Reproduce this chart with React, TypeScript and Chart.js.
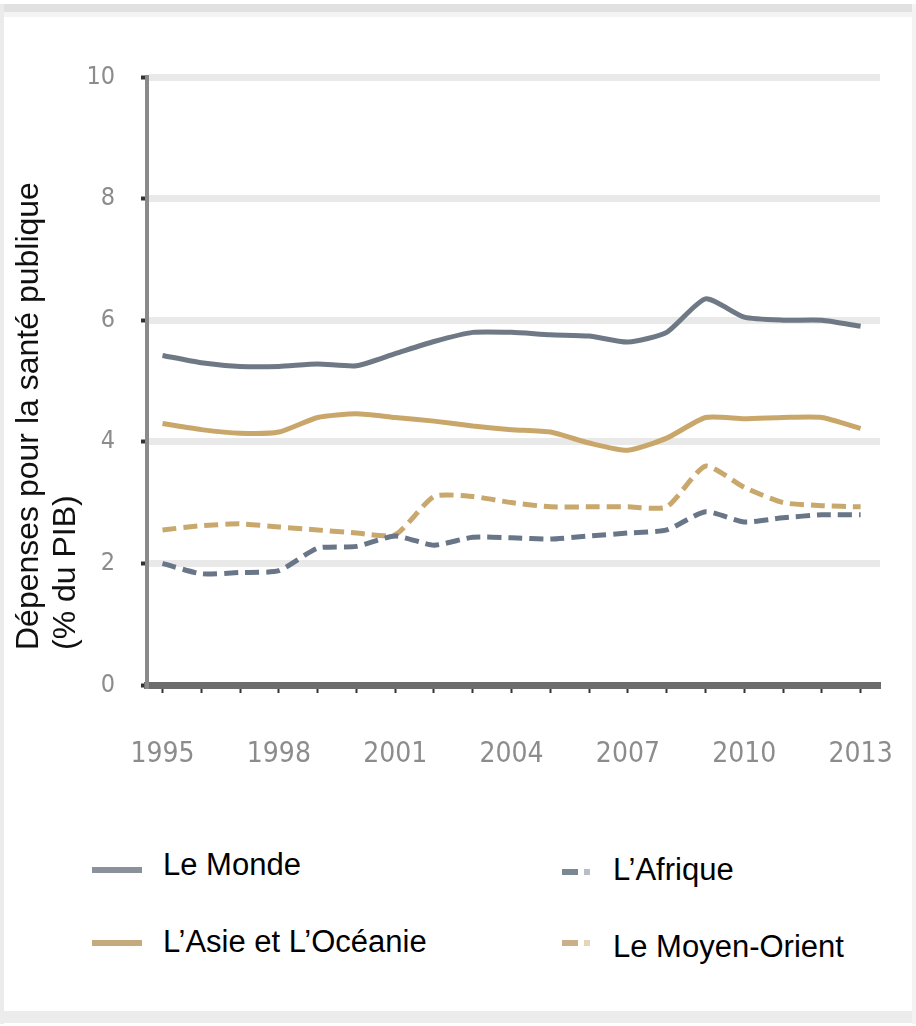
import React, { useEffect, useRef } from "react";
import { Chart, registerables } from "chart.js";

Chart.register(...registerables);

// ---- data ----
const years = [1995, 1996, 1997, 1998, 1999, 2000, 2001, 2002, 2003, 2004, 2005, 2006, 2007, 2008, 2009, 2010, 2011, 2012, 2013];
const monde = [5.42, 5.3, 5.24, 5.24, 5.28, 5.25, 5.45, 5.65, 5.8, 5.8, 5.76, 5.74, 5.64, 5.8, 6.35, 6.05, 6.0, 6.0, 5.9];
const asieOceanie = [4.3, 4.2, 4.14, 4.16, 4.4, 4.46, 4.4, 4.34, 4.26, 4.2, 4.16, 3.98, 3.86, 4.06, 4.4, 4.38, 4.4, 4.4, 4.22];
const afrique = [2.0, 1.83, 1.85, 1.88, 2.25, 2.28, 2.45, 2.3, 2.43, 2.42, 2.4, 2.45, 2.5, 2.55, 2.85, 2.68, 2.75, 2.8, 2.8];
const moyenOrient = [2.55, 2.62, 2.65, 2.6, 2.55, 2.5, 2.47, 3.1, 3.1, 3.0, 2.93, 2.93, 2.93, 2.93, 3.6, 3.25, 3.0, 2.95, 2.93];
const xLabelYears = [1995, 1998, 2001, 2004, 2007, 2010, 2013];
const yTickValues = [0, 2, 4, 6, 8, 10];
const yTitle = ["Dépenses pour la santé publique", "(% du PIB)"];
const seriesNames = ["Le Monde", "L’Asie et L’Océanie", "L’Afrique", "Le Moyen-Orient"];
const seriesColors = ["#6f7986", "#c9a76a", "#687687", "#c8a86d"];

const NARROW = '"Liberation Sans Narrow", "DejaVu Sans Condensed", "Liberation Sans", sans-serif';
const SANS = '"Liberation Sans", Arial, sans-serif';

const yTitlePlugin = {
  id: "yTitleCustom",
  afterDraw(chart: any) {
    const ctx = chart.ctx;
    ctx.save();
    ctx.fillStyle = "#111";
    ctx.font = `32px ${SANS}`;
    ctx.textAlign = "left";
    ctx.textBaseline = "alphabetic";
    const xs = [38, 75];
    yTitle.forEach((t, i) => {
      ctx.save();
      ctx.translate(xs[i], 650);
      ctx.rotate(-Math.PI / 2);
      ctx.fillText(t, 0, 0);
      ctx.restore();
    });
    ctx.restore();
  },
};

function toPoints(vals: number[]) {
  return years.map((yr, i) => ({ x: yr, y: vals[i] }));
}

export default function App() {
  const ref = useRef<HTMLCanvasElement | null>(null);

  useEffect(() => {
    if (!ref.current) return;
    const chart = new Chart(ref.current, {
      type: "line",
      data: {
        datasets: [
          { label: seriesNames[0], data: toPoints(monde), borderColor: seriesColors[0], borderWidth: 5, pointRadius: 0, tension: 0.2, fill: false },
          { label: seriesNames[1], data: toPoints(asieOceanie), borderColor: seriesColors[1], borderWidth: 5, pointRadius: 0, tension: 0.2, fill: false },
          { label: seriesNames[2], data: toPoints(afrique), borderColor: seriesColors[2], borderWidth: 5, borderDash: [14, 7], pointRadius: 0, tension: 0.2, fill: false },
          { label: seriesNames[3], data: toPoints(moyenOrient), borderColor: seriesColors[3], borderWidth: 5, borderDash: [14, 7], pointRadius: 0, tension: 0.2, fill: false },
        ],
      },
      options: {
        animation: false,
        responsive: false,
        maintainAspectRatio: false,
        layout: { padding: { top: 77, right: 36, left: 0, bottom: 0 } },
        plugins: { legend: { display: false }, tooltip: { enabled: false } },
        scales: {
          x: {
            type: "linear",
            min: 1994.6,
            max: 2013.5,
            afterBuildTicks: (s: any) => {
              s.ticks = years.map((v) => ({ value: v }));
            },
            afterFit: (s: any) => {
              s.height = 115;
              s.paddingLeft = 0;
              s.paddingRight = 0;
            },
            ticks: {
              autoSkip: false,
              maxRotation: 0,
              padding: 45,
              color: "#8c8c8c",
              font: { family: NARROW, size: 28 },
              callback: (v: any) => (xLabelYears.includes(Number(v)) ? String(v) : ""),
            },
            grid: { display: true, drawOnChartArea: false, drawTicks: true, tickLength: 8, tickColor: "#333", tickWidth: 2 },
            border: { display: true, color: "#6c6c6c", width: 7 },
          },
          y: {
            min: 0,
            max: 10,
            afterBuildTicks: (s: any) => {
              s.ticks = yTickValues.map((v) => ({ value: v }));
            },
            afterFit: (s: any) => {
              s.width = 147;
              s.paddingTop = 0;
              s.paddingBottom = 0;
            },
            ticks: { padding: 26, color: "#8c8c8c", font: { family: NARROW, size: 25 } },
            grid: {
              color: (c: any) => (c.tick && c.tick.value === 0 ? "rgba(0,0,0,0)" : "#e9e9e9"),
              lineWidth: 7,
              tickLength: 6,
              tickColor: "#333",
              tickWidth: 4,
            },
            border: { display: true, color: "#8a8a8a", width: 4 },
          },
        },
      },
      plugins: [yTitlePlugin],
    } as any);
    return () => chart.destroy();
  }, []);

  const legendText: React.CSSProperties = {
    position: "absolute",
    fontFamily: SANS,
    fontSize: 31,
    lineHeight: "31px",
    color: "#000",
    whiteSpace: "nowrap",
  };

  return (
    <div style={{ position: "absolute", left: 0, top: 0, width: 916, height: 1026, overflow: "hidden", background: "#fff" }}>
      {/* frame */}
      <div style={{ position: "absolute", left: 0, top: 4, width: 916, height: 8, background: "#e1e1e1" }} />
      <div style={{ position: "absolute", left: 0, top: 12, width: 916, height: 5, background: "#f4f4f4" }} />
      <div style={{ position: "absolute", left: 0, top: 4, width: 4, height: 1020, background: "#ebebeb" }} />
      <div style={{ position: "absolute", left: 0, top: 1011, width: 916, height: 12, background: "#ececec" }} />
      <div style={{ position: "absolute", left: 912, top: 4, width: 4, height: 1020, background: "#f3f3f3" }} />

      <canvas ref={ref} width={916} height={800} style={{ position: "absolute", left: 0, top: 0, width: 916, height: 800 }} />

      {/* legend */}
      <div style={{ position: "absolute", left: 92, top: 867, width: 50, height: 6, background: "#8a919b" }} />
      <div style={{ ...legendText, left: 163, top: 849 }}>{seriesNames[0]}</div>

      <div style={{ position: "absolute", left: 562, top: 869, width: 16, height: 6, background: "#7c8794" }} />
      <div style={{ position: "absolute", left: 584, top: 869, width: 6, height: 6, background: "#b8bec6" }} />
      <div style={{ ...legendText, left: 613, top: 854 }}>{seriesNames[2]}</div>

      <div style={{ position: "absolute", left: 92, top: 940, width: 50, height: 6, background: "#c4aa7c" }} />
      <div style={{ ...legendText, left: 163, top: 926 }}>{seriesNames[1]}</div>

      <div style={{ position: "absolute", left: 562, top: 940, width: 16, height: 6, background: "#c9b08a" }} />
      <div style={{ position: "absolute", left: 584, top: 940, width: 6, height: 6, background: "#e6d6b8" }} />
      <div style={{ ...legendText, left: 613, top: 931 }}>{seriesNames[3]}</div>
    </div>
  );
}
